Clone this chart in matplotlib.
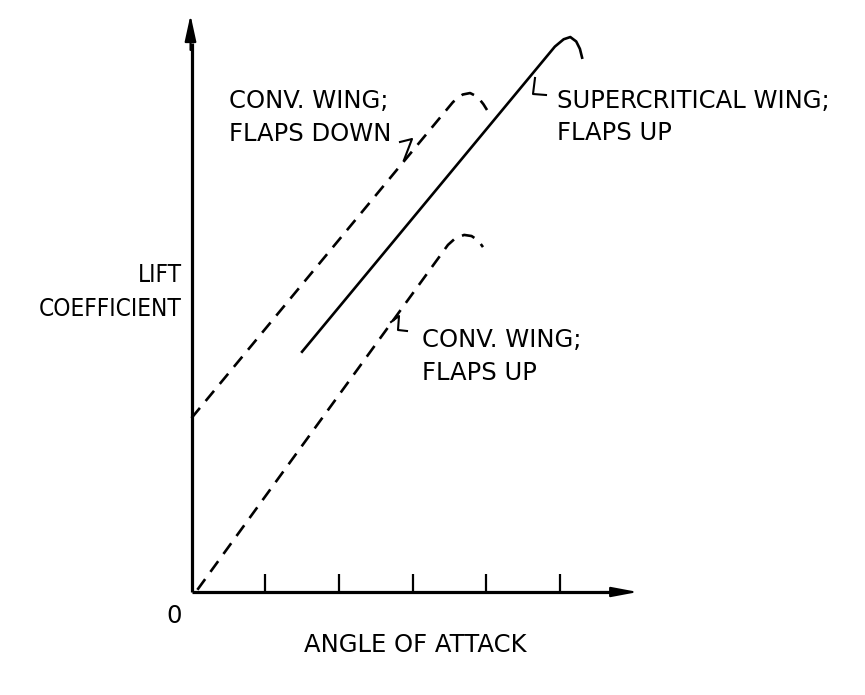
import matplotlib
matplotlib.use("Agg")
import matplotlib.pyplot as plt

# ---- data (axis units: one tick = 1) ----
tick_positions = [1, 2, 3, 4, 5]

conv_up_x = [0.08, 3.48, 3.58, 3.70, 3.80, 3.89, 3.955]
conv_up_y = [0.03, 4.71, 4.80, 4.845, 4.83, 4.77, 4.68]

conv_down_x = [0.0, 3.40, 3.55, 3.68, 3.78, 3.88, 3.96, 4.01]
conv_down_y = [2.36, 6.47, 6.65, 6.75, 6.77, 6.72, 6.62, 6.54]

super_x = [1.50, 4.93, 5.05, 5.14, 5.22, 5.27, 5.30]
super_y = [3.26, 7.40, 7.50, 7.53, 7.47, 7.37, 7.25]

conv_down_lines = ["CONV. WING;", "FLAPS DOWN"]
super_lines = ["SUPERCRITICAL WING;", "FLAPS UP"]
conv_up_lines = ["CONV. WING;", "FLAPS UP"]
xlabel = "ANGLE OF ATTACK"
ylabel_lines = ["LIFT", "COEFFICIENT"]
origin_label = "0"

# ---- figure ----
W, H = 865, 695
ox, oy, s = 191.5, 592.0, 73.7   # pixel origin and pixels per unit

fig = plt.figure(figsize=(W / 100, H / 100), dpi=100)
ax = fig.add_axes([0, 0, 1, 1])
ax.set_xlim(-ox / s, (W - ox) / s)
ax.set_ylim(-(H - oy) / s, oy / s)
ax.axis("off")

def px(x, y):
    return ((x - ox) / s, (oy - y) / s)

lw_axis = 2.3
lw_curve = 1.9
dash = (5.0, 3.4)

# axes with arrows
ax.plot([0, 0], [0, 7.45], color="black", lw=lw_axis, solid_capstyle="butt")
ax.plot([0, 5.75], [0, 0], color="black", lw=lw_axis, solid_capstyle="butt")
ax.annotate("", xy=px(190.5, 15), xytext=px(190.5, 50),
            arrowprops=dict(arrowstyle="-|>,head_length=1.6,head_width=0.35",
                            color="black", lw=1.5, shrinkA=0, shrinkB=0))
ax.annotate("", xy=px(638, 592), xytext=px(600, 592),
            arrowprops=dict(arrowstyle="-|>,head_length=1.6,head_width=0.3",
                            color="black", lw=1.5, shrinkA=0, shrinkB=0))
ax.vlines(tick_positions, 0, 0.25, color="black", lw=1.6)

# curves
ax.plot(conv_up_x, conv_up_y, color="black", lw=lw_curve, dashes=dash,
        dash_capstyle="butt")
ax.plot(conv_down_x, conv_down_y, color="black", lw=lw_curve, dashes=dash,
        dash_capstyle="butt")
ax.plot(super_x, super_y, color="black", lw=lw_curve, solid_joinstyle="round")

# leader marks
for pts in ([(400, 142), (412, 139), (404, 160)],
            [(535, 78), (533, 94), (546, 95)],
            [(391, 322), (399, 316), (398, 330), (407, 331)]):
    xs, ys = zip(*[px(a, b) for a, b in pts])
    ax.plot(xs, ys, color="black", lw=1.5)

# texts
fs = 17.5
tk = dict(color="black", fontsize=fs, fontfamily="DejaVu Sans", va="baseline")

def two_lines(x, y1, y2, lines, ha="left"):
    ax.text(*px(x, y1), lines[0], ha=ha, **tk)
    ax.text(*px(x, y2), lines[1], ha=ha, **tk)

two_lines(229, 108, 141, conv_down_lines)
two_lines(557, 108, 140, super_lines)
two_lines(422, 347, 380, conv_up_lines)
ax.text(*px(160, 282), ylabel_lines[0], ha="center", fontstretch="condensed", **tk)
ax.text(*px(182, 316), ylabel_lines[1], ha="right", fontstretch="condensed", **tk)
ax.text(*px(415, 652), xlabel, ha="center", **tk)
ax.text(*px(174, 623), origin_label, ha="center", **tk)

fig.savefig("out.png", dpi=100)
